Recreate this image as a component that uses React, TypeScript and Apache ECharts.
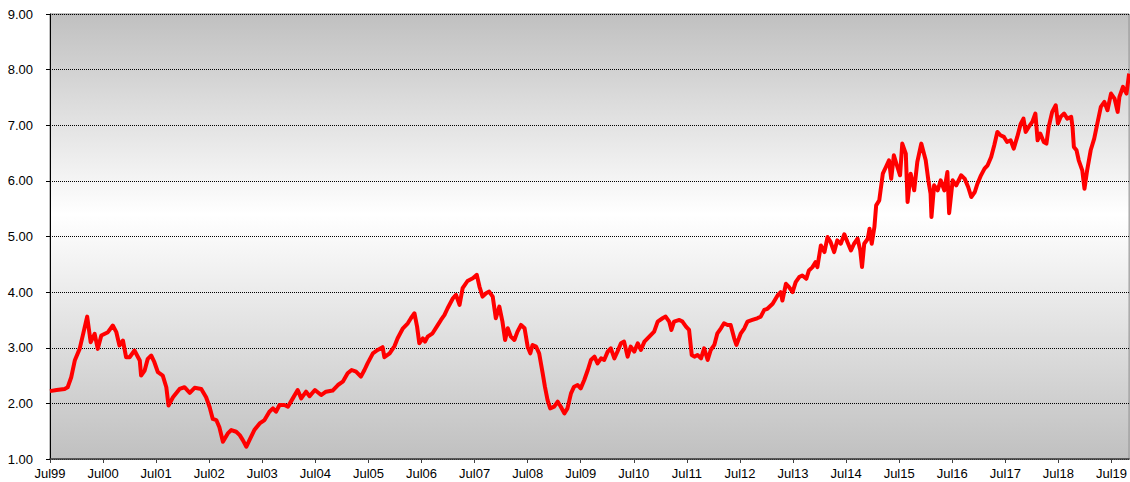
import React, { useEffect, useRef } from "react";
import * as echarts from "echarts";

// x = months since July 1999, y = value
const period1999to2003: [number, number][] = [
  [0.0, 2.22], [1.5, 2.24], [3.3, 2.26], [4.0, 2.29], [4.8, 2.47], [5.6, 2.77], [6.7, 2.98],
  [7.5, 3.25], [8.4, 3.56], [9.2, 3.1], [10.1, 3.25], [10.8, 2.98], [11.6, 3.22], [13.1, 3.28],
  [14.2, 3.4], [15.0, 3.28], [15.7, 3.04], [16.5, 3.13], [17.2, 2.83], [18.0, 2.83], [19.1, 2.95],
  [20.3, 2.77], [20.6, 2.5], [21.4, 2.59], [22.1, 2.8], [22.9, 2.86], [23.6, 2.74], [24.4, 2.56],
  [25.5, 2.5], [26.3, 2.29], [26.8, 1.96], [27.8, 2.11], [29.3, 2.26], [30.4, 2.29], [31.6, 2.19],
  [32.7, 2.28], [34.2, 2.26], [35.3, 2.11], [36.1, 1.93], [36.8, 1.72], [37.6, 1.7], [38.3, 1.57],
  [39.1, 1.31], [40.2, 1.46], [41.0, 1.52], [42.1, 1.49], [42.9, 1.43], [43.6, 1.34], [44.4, 1.22],
  [45.1, 1.34], [46.2, 1.52], [47.4, 1.64], [48.5, 1.7], [49.6, 1.85], [50.4, 1.91], [51.1, 1.85],
  [51.9, 1.97], [53.0, 1.97], [53.8, 1.94], [54.9, 2.09], [56.0, 2.24], [56.8, 2.09], [57.9, 2.21],
  [58.7, 2.13], [59.9, 2.24],
];

const period2004to2009: [number, number][] = [
  [61.3, 2.15], [62.4, 2.21], [63.9, 2.23], [65.1, 2.33], [66.2, 2.39], [67.3, 2.54], [68.2, 2.6],
  [69.2, 2.57], [70.3, 2.48], [71.1, 2.6], [71.8, 2.72], [73.0, 2.9], [74.1, 2.96], [75.2, 3.01],
  [75.6, 2.83], [76.8, 2.9], [77.9, 3.03], [78.6, 3.17], [79.8, 3.35], [80.9, 3.44], [81.6, 3.53],
  [82.4, 3.62], [83.0, 3.38], [83.5, 3.08], [84.3, 3.17], [84.8, 3.11], [85.4, 3.2], [86.5, 3.26],
  [87.7, 3.41], [88.4, 3.5], [89.2, 3.59], [89.9, 3.71], [91.1, 3.89], [91.8, 3.95], [92.6, 3.77],
  [93.3, 4.07], [94.4, 4.2], [95.6, 4.25], [96.5, 4.31], [97.1, 4.1], [97.8, 3.92], [98.6, 3.98],
  [99.3, 4.01], [100.1, 3.92], [100.8, 3.53], [101.6, 3.74], [102.3, 3.47], [102.9, 3.14],
  [103.5, 3.35], [104.2, 3.2], [105.0, 3.14], [105.7, 3.29], [106.5, 3.41], [107.3, 3.35],
  [108.0, 3.02], [108.6, 2.9], [109.1, 3.05], [109.9, 3.02], [110.6, 2.9], [111.4, 2.54],
  [111.9, 2.3], [112.5, 2.06], [113.1, 1.91], [114.0, 1.94], [114.8, 2.03], [115.5, 1.94],
  [116.3, 1.82], [117.0, 1.91], [117.8, 2.18], [118.5, 2.3], [119.3, 2.33],
];

const period2009to2014: [number, number][] = [
  [120.0, 2.27], [120.8, 2.42], [121.6, 2.6], [122.3, 2.78], [123.1, 2.84], [123.8, 2.72],
  [124.6, 2.81], [125.3, 2.78], [126.1, 2.93], [126.8, 2.99], [127.6, 2.81], [128.3, 2.93],
  [129.1, 3.08], [129.8, 3.11], [130.6, 2.84], [131.3, 3.02], [132.1, 2.93], [132.9, 3.08],
  [133.6, 2.96], [134.4, 3.11], [135.5, 3.2], [136.6, 3.29], [137.4, 3.47], [138.5, 3.53],
  [139.2, 3.56], [140.0, 3.47], [140.5, 3.32], [141.1, 3.47], [142.3, 3.5], [143.0, 3.47],
  [143.8, 3.38], [144.5, 3.32], [145.1, 2.87], [145.7, 2.84], [146.4, 2.87], [147.2, 2.81],
  [147.9, 2.99], [148.7, 2.78], [149.4, 2.96], [150.2, 3.05], [150.9, 3.26], [151.7, 3.35],
  [152.4, 3.44], [153.2, 3.41], [153.9, 3.41], [154.7, 3.17], [155.2, 3.05], [156.2, 3.26],
  [157.0, 3.35], [157.7, 3.47], [158.8, 3.5], [159.9, 3.53], [160.7, 3.56], [161.5, 3.68],
  [162.2, 3.7], [163.4, 3.79], [164.5, 3.94], [165.2, 4.0], [165.6, 3.85], [166.4, 4.15],
  [167.1, 4.09], [167.9, 4.0], [168.6, 4.18], [169.4, 4.27], [170.1, 4.3], [171.0, 4.24],
  [171.6, 4.39], [172.4, 4.45], [173.1, 4.54], [173.5, 4.45], [174.3, 4.84], [175.1, 4.72],
  [175.8, 4.99], [176.5, 4.9], [177.3, 4.72], [178.0, 4.93], [178.8, 4.87], [179.6, 5.04],
];

const period2014to2019: [number, number][] = [
  [180.3, 4.9], [181.1, 4.75], [181.8, 4.87], [182.6, 4.96], [183.2, 4.75], [183.6, 4.45],
  [184.1, 4.87], [184.9, 4.96], [185.3, 5.14], [185.8, 4.87], [186.4, 5.17], [186.8, 5.56],
  [187.5, 5.65], [188.3, 6.13], [189.0, 6.25], [189.7, 6.37], [190.2, 6.04], [190.8, 6.46],
  [191.6, 6.25], [192.2, 6.1], [192.7, 6.67], [193.5, 6.49], [193.9, 5.62], [194.6, 6.13],
  [195.4, 5.83], [196.1, 6.34], [197.0, 6.67], [198.0, 6.37], [198.6, 6.01], [199.1, 5.77],
  [199.3, 5.35], [199.9, 5.92], [200.7, 5.83], [201.4, 6.01], [202.2, 5.83], [202.9, 6.16],
  [203.3, 5.42], [204.1, 6.01], [204.9, 5.92], [206.0, 6.1], [206.8, 6.04], [207.6, 5.89],
  [208.3, 5.71], [209.1, 5.8], [209.7, 5.95], [210.5, 6.1], [211.3, 6.22], [212.0, 6.28],
  [212.8, 6.43], [213.5, 6.64], [214.2, 6.88], [214.9, 6.82], [215.7, 6.79], [216.4, 6.7],
  [217.2, 6.73], [217.9, 6.58], [218.7, 6.79], [219.5, 7.03], [220.1, 7.12], [220.6, 6.88],
  [221.3, 6.97], [222.1, 7.06], [222.8, 7.21], [223.3, 6.73], [223.9, 6.85], [224.7, 6.7],
  [225.3, 6.67], [225.8, 6.97], [226.6, 7.24], [227.4, 7.36], [227.9, 7.03], [228.5, 7.15],
  [229.3, 7.21], [230.0, 7.12], [230.9, 7.15], [231.2, 6.97], [231.5, 6.61], [232.1, 6.55],
  [232.6, 6.37], [233.4, 6.19], [233.9, 5.86], [234.5, 6.19], [235.3, 6.55], [236.1, 6.76],
  [236.8, 7.03], [237.6, 7.33], [238.4, 7.42], [239.1, 7.27], [239.9, 7.57], [240.7, 7.48],
  [241.4, 7.24], [241.8, 7.51], [242.6, 7.69], [243.4, 7.57], [244.0, 7.93],
];

const xTickLabels = [
  "Jul99", "Jul00", "Jul01", "Jul02", "Jul03", "Jul04", "Jul05", "Jul06", "Jul07", "Jul08",
  "Jul09", "Jul10", "Jul11", "Jul12", "Jul13", "Jul14", "Jul15", "Jul16", "Jul17", "Jul18", "Jul19",
];

const FONT = "'Liberation Sans', Arial, sans-serif";

export default function App() {
  const ref = useRef<HTMLDivElement>(null);

  useEffect(() => {
    if (!ref.current) return;
    const chart = echarts.init(ref.current, null, { renderer: "svg" });
    const data = [
      ...period1999to2003,
      ...period2004to2009,
      ...period2009to2014,
      ...period2014to2019,
    ];
    chart.setOption({
      animation: false,
      backgroundColor: "#ffffff",
      grid: {
        left: 50,
        right: 0,
        top: 14,
        bottom: 23,
        show: true,
        borderColor: "#808080",
        borderWidth: 1,
        backgroundColor: {
          type: "linear",
          x: 0,
          y: 0,
          x2: 0,
          y2: 1,
          colorStops: [
            { offset: 0, color: "#c0c0c0" },
            { offset: 0.45, color: "#ffffff" },
            { offset: 1, color: "#c0c0c0" },
          ],
        },
      },
      xAxis: {
        type: "value",
        min: 0,
        max: 244,
        interval: 12,
        axisLine: { show: true, lineStyle: { color: "#404040", width: 1.5 } },
        axisTick: { show: true, length: 4, lineStyle: { color: "#404040" } },
        splitLine: { show: false },
        axisLabel: {
          color: "#000",
          fontFamily: FONT,
          fontSize: 13,
          margin: 8,
          showMaxLabel: false,
          formatter: (v: number) =>
            v % 12 === 0 && xTickLabels[v / 12] ? xTickLabels[v / 12] : "",
        },
      },
      yAxis: {
        type: "value",
        min: 1,
        max: 9,
        interval: 1,
        axisLine: { show: true, lineStyle: { color: "#000", width: 1 } },
        axisTick: { show: true, length: 4, lineStyle: { color: "#000" } },
        splitLine: { show: true, lineStyle: { color: "#000", type: "dotted", width: 1 } },
        axisLabel: {
          color: "#000",
          fontFamily: FONT,
          fontSize: 13,
          margin: 17,
          formatter: (v: number) => v.toFixed(2),
        },
      },
      series: [
        {
          type: "line",
          data,
          showSymbol: false,
          symbol: "none",
          lineStyle: { color: "#ff0000", width: 4, join: "round" },
          itemStyle: { color: "#ff0000" },
        },
      ],
    });
    return () => chart.dispose();
  }, []);

  return (
    <div
      ref={ref}
      style={{ position: "absolute", left: 0, top: 0, width: 1130, height: 482 }}
    />
  );
}
